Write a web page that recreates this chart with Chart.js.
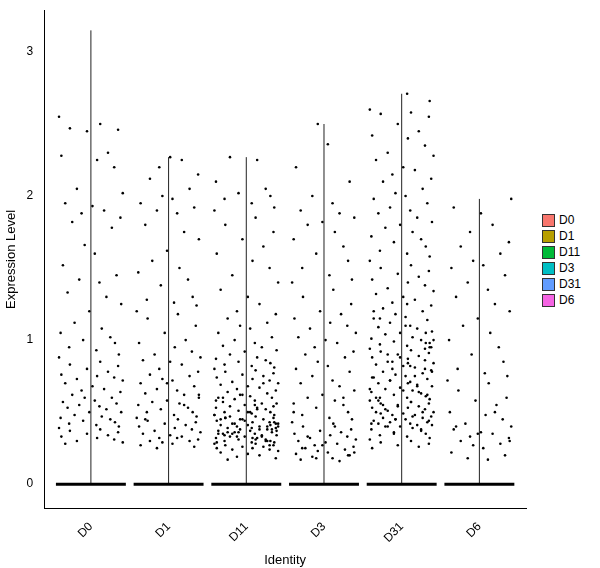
<!DOCTYPE html>
<html><head><meta charset="utf-8">
<script src="https://cdn.jsdelivr.net/npm/chart.js@4/dist/chart.umd.min.js"></script>
<style>
body{margin:0;background:#fff;font-family:"Liberation Sans",Arial,sans-serif}
#wrap{position:absolute;left:0;top:0;width:530px;height:572px}
#leg{position:absolute;left:542px;top:212px;font-size:12px}
#leg div{height:16px;display:flex;align-items:center}
#leg span{display:inline-block;width:13px;height:13px;border:1px solid #333;margin-right:4px;box-sizing:border-box}
</style></head><body>
<div id="wrap"><canvas id="c"></canvas></div>
<div id="leg"></div>
<script>
const categories=["D0","D1","D11","D3","D31","D6"];
const colors=["#F8766D","#B79F00","#00BA38","#00BFC4","#619CFF","#F564E3"];
const maxValues=[3.15,2.27,2.27,2.5,2.71,1.98];
const yTicks=[0,1,2,3];
const jitter=[-0.41,0.12,-0.27,0.35,-0.05,0.22,-0.38,0.08,0.3,-0.18,0.41,-0.33,0.02,0.17,-0.12,0.38,-0.24,0.27,-0.08,0.05,-0.36,0.33,-0.15,0.11,-0.3,0.2,0.39,-0.02,-0.21,0.14,-0.39,0.25,-0.1,0.31,-0.28,0.07,0.36];
const vD0=[2.55,2.5,2.47,2.46,2.45,2.3,2.28,2.25,2.2,2.05,2.02,1.95,1.93,1.9,1.88,1.85,1.82,1.78,1.66,1.6,1.52,1.45,1.42,1.4,1.33,1.3,1.25,1.2,1.12,1.08,1.05,1.02,1.0,0.98,0.95,0.93,0.9,0.88,0.85,0.83,0.82,0.8,0.78,0.76,0.75,0.74,0.73,0.72,0.7,0.68,0.66,0.65,0.64,0.62,0.6,0.6,0.58,0.57,0.56,0.55,0.54,0.53,0.52,0.5,0.5,0.48,0.47,0.46,0.45,0.44,0.43,0.42,0.41,0.4,0.39,0.38,0.37,0.36,0.35,0.34,0.33,0.32,0.31,0.3,0.29,0.28];
const vD1=[2.27,2.25,2.2,2.15,2.12,2.05,2.0,1.98,1.95,1.92,1.9,1.88,1.8,1.75,1.7,1.62,1.55,1.5,1.47,1.42,1.38,1.3,1.28,1.26,1.24,1.2,1.18,1.15,1.1,1.05,1.0,0.98,0.95,0.92,0.9,0.88,0.86,0.85,0.83,0.8,0.78,0.76,0.75,0.73,0.72,0.7,0.68,0.66,0.65,0.63,0.62,0.6,0.58,0.57,0.56,0.55,0.53,0.52,0.5,0.5,0.48,0.47,0.46,0.45,0.44,0.43,0.42,0.41,0.4,0.39,0.38,0.37,0.36,0.35,0.34,0.33,0.32,0.31,0.3,0.3,0.29,0.28,0.27,0.26,0.25,0.32,0.45,0.55,0.62,0.7];
const vD11=[2.27,2.25,2.1,2.05,2.02,2.0,1.98,1.95,1.92,1.9,1.85,1.8,1.75,1.7,1.65,1.6,1.55,1.5,1.45,1.4,1.35,1.3,1.25,1.2,1.18,1.15,1.12,1.1,1.08,1.05,1.02,1.0,0.98,0.96,0.95,0.93,0.92,0.9,0.88,0.87,0.86,0.85,0.84,0.83,0.82,0.81,0.8,0.79,0.78,0.77,0.76,0.75,0.74,0.73,0.72,0.71,0.7,0.69,0.68,0.67,0.66,0.65,0.64,0.63,0.62,0.61,0.6,0.6,0.59,0.58,0.57,0.56,0.56,0.55,0.54,0.53,0.53,0.52,0.51,0.5,0.5,0.49,0.48,0.48,0.47,0.46,0.46,0.45,0.45,0.44,0.43,0.43,0.42,0.42,0.41,0.41,0.4,0.4,0.39,0.39,0.38,0.38,0.37,0.37,0.36,0.36,0.35,0.35,0.34,0.34,0.33,0.33,0.32,0.32,0.31,0.31,0.3,0.3,0.29,0.29,0.28,0.28,0.27,0.27,0.26,0.26,0.25,0.25,0.24,0.24,0.23,0.22,0.21,0.2,0.19,0.18,0.17,0.4,0.45,0.5,0.35,0.38,0.42,0.55,0.6,0.33,0.37,0.44,0.47,0.52,0.58,0.3,0.36,0.41,0.34,0.39,0.43,0.48,0.31,0.46,0.54,0.62,0.7,0.29,0.32,0.27,0.35,0.4,0.45,0.5,0.38,0.33,0.42,0.36,0.3];
const vD3=[2.5,2.36,2.2,2.1,2.0,1.95,1.9,1.88,1.85,1.82,1.8,1.75,1.7,1.65,1.6,1.55,1.5,1.45,1.42,1.4,1.35,1.3,1.25,1.2,1.18,1.15,1.12,1.1,1.08,1.05,1.02,1.0,0.98,0.95,0.92,0.9,0.88,0.85,0.82,0.8,0.78,0.75,0.72,0.7,0.68,0.65,0.62,0.6,0.58,0.56,0.55,0.53,0.5,0.48,0.46,0.45,0.43,0.42,0.4,0.38,0.37,0.36,0.35,0.34,0.33,0.32,0.31,0.3,0.29,0.28,0.27,0.26,0.25,0.24,0.23,0.22,0.21,0.2,0.19,0.18,0.17,0.16,0.22,0.27,0.33,0.4,0.5,0.6,0.18,0.2,0.25];
const vD31=[2.71,2.66,2.6,2.58,2.57,2.55,2.5,2.45,2.42,2.4,2.35,2.3,2.28,2.25,2.2,2.18,2.15,2.12,2.1,2.05,2.02,2.0,1.98,1.95,1.92,1.9,1.88,1.85,1.82,1.8,1.78,1.75,1.72,1.7,1.68,1.65,1.62,1.6,1.58,1.55,1.52,1.5,1.48,1.46,1.44,1.42,1.4,1.38,1.36,1.34,1.32,1.3,1.28,1.26,1.24,1.22,1.2,1.18,1.16,1.15,1.14,1.12,1.1,1.09,1.08,1.06,1.05,1.04,1.02,1.01,1.0,0.99,0.98,0.97,0.96,0.95,0.94,0.93,0.92,0.91,0.9,0.89,0.88,0.87,0.86,0.85,0.84,0.83,0.82,0.81,0.8,0.79,0.78,0.77,0.76,0.75,0.74,0.73,0.72,0.71,0.7,0.69,0.68,0.67,0.66,0.65,0.64,0.63,0.62,0.61,0.6,0.6,0.59,0.58,0.57,0.56,0.56,0.55,0.54,0.53,0.53,0.52,0.51,0.5,0.5,0.49,0.48,0.48,0.47,0.46,0.46,0.45,0.45,0.44,0.43,0.43,0.42,0.42,0.41,0.41,0.4,0.4,0.39,0.38,0.37,0.36,0.35,0.34,0.33,0.32,0.31,0.3,0.29,0.28,0.27,0.26,0.25,0.7,0.8,0.9,1.0,0.6,0.65,0.75,0.85,0.95,0.55,0.5,0.45,1.1,1.2,0.62,0.72,0.82,0.58,0.68,0.78,0.88,0.52,0.47,0.42,0.38,0.35,1.05,1.15,1.25,0.98,0.66,0.57,0.49,0.44,0.54,0.64,0.74,0.84,0.94,0.4];
const vD6=[1.98,1.92,1.88,1.8,1.75,1.68,1.65,1.6,1.55,1.52,1.5,1.45,1.4,1.35,1.3,1.25,1.2,1.15,1.1,1.05,1.0,0.95,0.9,0.85,0.8,0.77,0.75,0.72,0.7,0.65,0.6,0.58,0.55,0.5,0.48,0.45,0.42,0.4,0.38,0.36,0.35,0.33,0.32,0.3,0.28,0.27,0.25,0.22,0.2,0.18,0.17,0.4,0.5,0.3,0.35];
const groups=[vD0,vD1,vD11,vD3,vD31,vD6];
let k=0;const pts=[];
groups.forEach((g,i)=>g.forEach(v=>{pts.push({x:i+jitter[k%jitter.length],y:v});k++;}));
const datasets=[];
categories.forEach((c,i)=>{
 datasets.push({type:'line',data:[{x:i-0.45,y:0},{x:i+0.45,y:0}],borderColor:'#000',borderWidth:3,pointRadius:0});
 datasets.push({type:'line',data:[{x:i,y:0},{x:i,y:maxValues[i]}],borderColor:'#222',borderWidth:1,pointRadius:0});
});
datasets.push({type:'scatter',data:pts,backgroundColor:'#000',borderWidth:0,pointRadius:1.3});
new Chart(document.getElementById('c'),{data:{datasets},options:{
 responsive:true,maintainAspectRatio:false,animation:false,
 layout:{padding:{top:2,right:2}},
 plugins:{legend:{display:false},tooltip:{enabled:false}},
 scales:{
  x:{type:'linear',min:-0.6,max:5.6,grid:{display:false,drawTicks:true},border:{color:'#000',width:1},
   afterBuildTicks:a=>{a.ticks=categories.map((c,i)=>({value:i}));},
   ticks:{callback:v=>categories[v],color:'#000',font:{size:12,family:'Liberation Sans'},maxRotation:45,minRotation:45},
   title:{display:true,text:'Identity',color:'#000',font:{size:13,family:'Liberation Sans'}}},
  y:{min:-0.17,max:3.29,grid:{display:false},border:{color:'#000',width:1},
   afterBuildTicks:a=>{a.ticks=yTicks.map(v=>({value:v}));},
   ticks:{color:'#000',font:{size:12,family:'Liberation Sans'}},
   title:{display:true,text:'Expression Level',color:'#000',font:{size:13,family:'Liberation Sans'}}}
 }}});
document.getElementById('leg').innerHTML=categories.map((c,i)=>`<div><span style="background:${colors[i]}"></span>${c}</div>`).join('');
</script></body></html>
